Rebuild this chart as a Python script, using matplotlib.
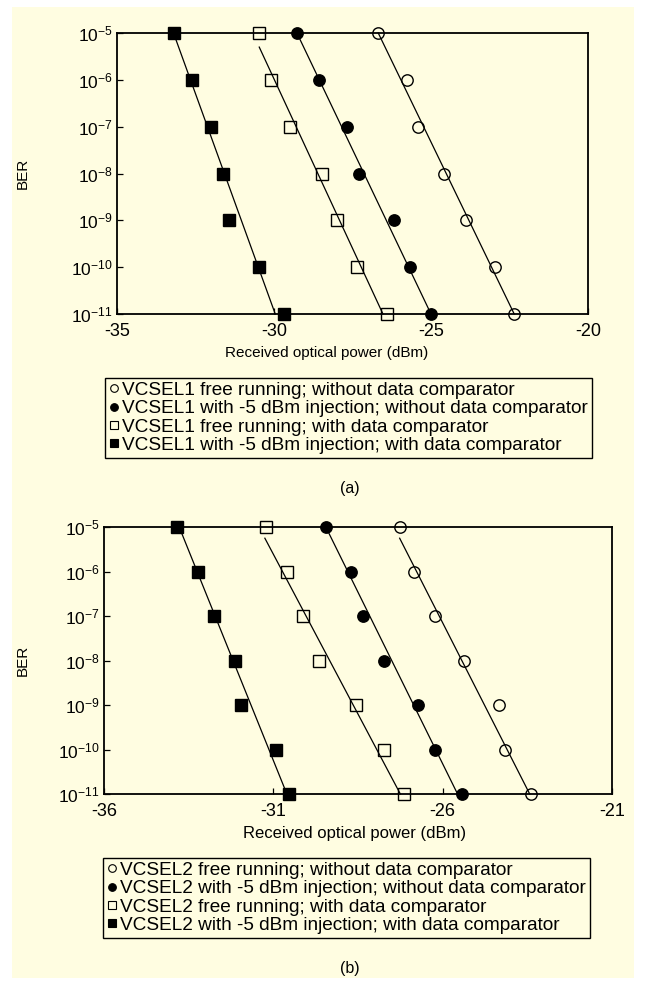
import matplotlib
matplotlib.use("Agg")
import matplotlib.pyplot as plt
from matplotlib.lines import Line2D
from matplotlib.patches import Rectangle

plt.rcParams['font.family'] = ['Liberation Sans', 'DejaVu Sans']
plt.rcParams['mathtext.fontset'] = 'custom'
plt.rcParams['mathtext.rm'] = 'Liberation Sans'
plt.rcParams['mathtext.it'] = 'Liberation Sans'
plt.rcParams['axes.unicode_minus'] = False

# ---------------- data ----------------
ber = [1e-5, 1e-6, 1e-7, 1e-8, 1e-9, 1e-10, 1e-11]
ytick_vals = [1e-5, 1e-6, 1e-7, 1e-8, 1e-9, 1e-10, 1e-11]
ytick_labels = [r'$\mathregular{10^{-5}}$', r'$\mathregular{10^{-6}}$', r'$\mathregular{10^{-7}}$',
                r'$\mathregular{10^{-8}}$', r'$\mathregular{10^{-9}}$', r'$\mathregular{10^{-10}}$',
                r'$\mathregular{10^{-11}}$']

# Panel (a) - VCSEL1
a_free_nocomp = [-26.68, -25.75, -25.40, -24.59, -23.87, -22.95, -22.35]
a_inj_nocomp = [-29.27, -28.57, -27.67, -27.28, -26.18, -25.68, -24.99]
a_free_comp = [-30.47, -30.10, -29.50, -28.47, -27.99, -27.37, -26.39]
a_inj_comp = [-33.20, -32.61, -32.01, -31.61, -31.42, -30.47, -29.69]
# fitted lines (start power, end power), (start BER, end BER)
a_fit_free_nocomp = ([-26.68, -22.35], [1e-5, 1e-11])
a_fit_inj_nocomp = ([-29.27, -25.00], [1e-5, 1e-11])
a_fit_free_comp = ([-30.47, -26.53], [5e-6, 1e-11])
a_fit_inj_comp = ([-33.20, -29.96], [1e-5, 1e-11])
a_xticks = [-35, -30, -25, -20]
a_xlim = (-35, -20)
a_labels = ['VCSEL1 free running; without data comparator',
            'VCSEL1 with -5 dBm injection; without data comparator',
            'VCSEL1 free running; with data comparator',
            'VCSEL1 with -5 dBm injection; with data comparator']

# Panel (b) - VCSEL2
b_free_nocomp = [-27.25, -26.85, -26.24, -25.38, -24.35, -24.17, -23.38]
b_inj_nocomp = [-29.45, -28.71, -28.35, -27.74, -26.73, -26.24, -25.43]
b_free_comp = [-31.22, -30.61, -30.12, -29.65, -28.55, -27.74, -27.15]
b_inj_comp = [-33.83, -33.22, -32.75, -32.12, -31.94, -30.93, -30.53]
b_fit_free_nocomp = ([-27.27, -23.43], [5.6e-6, 1e-11])
b_fit_inj_nocomp = ([-29.45, -25.56], [1e-5, 1e-11])
b_fit_free_comp = ([-31.25, -27.25], [5.6e-6, 1e-11])
b_fit_inj_comp = ([-33.78, -30.60], [1e-5, 1e-11])
b_xticks = [-36, -31, -26, -21]
b_xlim = (-36, -21)
b_labels = ['VCSEL2 free running; without data comparator',
            'VCSEL2 with -5 dBm injection; without data comparator',
            'VCSEL2 free running; with data comparator',
            'VCSEL2 with -5 dBm injection; with data comparator']

# ---------------- style ----------------
BG = '#FFFDE1'
W, H = 646, 985
fig = plt.figure(figsize=(W / 100, H / 100), dpi=100)
fig.patch.set_facecolor('white')
fig.add_artist(Rectangle((12 / W, 1 - 978 / H), (634 - 12) / W, (978 - 7) / H,
                         transform=fig.transFigure, facecolor=BG, edgecolor='none', zorder=0))

styles = [dict(marker='o', mfc='none', mec='black'),
          dict(marker='o', mfc='black', mec='black'),
          dict(marker='s', mfc='none', mec='black'),
          dict(marker='s', mfc='black', mec='black')]


def make_panel(rect_px, series, fits, xticks, xlim, labels, leg_px, tag, tag_y,
               xlabel_cx, xlabel_top, xlabel_size):
    l, t, r, b = rect_px
    ax = fig.add_axes([l / W, 1 - b / H, (r - l) / W, (b - t) / H])
    ax.set_facecolor(BG)
    ax.set_yscale('log')
    ax.set_xlim(*xlim)
    ax.set_ylim(1e-11, 1e-5)
    for (fx, fy) in fits:
        ax.plot(fx, fy, color='black', lw=0.9, zorder=2, clip_on=False)
    for vals, st in zip(series, styles):
        ax.plot(vals, ber, linestyle='none', markersize=8.8 if st['marker'] == 's' else 8.2,
                markeredgewidth=1.0, zorder=3, clip_on=False, **st)
    ax.set_yticks(ytick_vals)
    ax.set_yticklabels(ytick_labels)
    ax.yaxis.set_minor_locator(matplotlib.ticker.NullLocator())
    ax.set_xticks(xticks)
    ax.set_xticklabels([str(v) for v in xticks])
    ax.tick_params(axis='both', direction='in', length=4, width=0.9, top=False, right=False,
                   colors='black')
    ax.tick_params(axis='y', labelsize=12.5, pad=3)
    ax.tick_params(axis='x', labelsize=13, pad=6.5)
    for s in ax.spines.values():
        s.set_linewidth(1.3)
        s.set_color('black')
    ax.set_xlabel('Received optical power (dBm)', fontsize=xlabel_size)
    ax.xaxis.set_label_coords((xlabel_cx - l) / (r - l), -(xlabel_top - b) / (b - t))
    ax.set_ylabel('BER', fontsize=11)
    ax.yaxis.set_label_coords(-(l - 30) / (r - l), 0.5)

    handles = [Line2D([], [], linestyle='none', markersize=6 if st['marker'] == 's' else 5.5,
                      markeredgewidth=0.8, **st) for st in styles]
    lx, ly = leg_px
    leg = fig.legend(handles, labels, loc='upper left', bbox_to_anchor=(lx / W, 1 - ly / H),
                     bbox_transform=fig.transFigure, frameon=True, fancybox=False,
                     edgecolor='black', facecolor=BG, framealpha=1, fontsize=13.7,
                     handlelength=0.5, handletextpad=0.2, borderpad=0.2,
                     labelspacing=0.05, borderaxespad=0)
    leg.get_frame().set_linewidth(1.0)
    fig.text(350 / W, 1 - tag_y / H, tag, ha='center', va='center', fontsize=11.5)
    return ax


make_panel((117, 33, 588, 314),
           [a_free_nocomp, a_inj_nocomp, a_free_comp, a_inj_comp],
           [a_fit_free_nocomp, a_fit_inj_nocomp, a_fit_free_comp, a_fit_inj_comp],
           a_xticks, a_xlim, a_labels, (105, 378), '(a)', 489, 327, 346, 11)

make_panel((104, 527, 612, 794),
           [b_free_nocomp, b_inj_nocomp, b_free_comp, b_inj_comp],
           [b_fit_free_nocomp, b_fit_inj_nocomp, b_fit_free_comp, b_fit_inj_comp],
           b_xticks, b_xlim, b_labels, (103, 858), '(b)', 969, 355, 826, 12)

fig.savefig('out.png', dpi=100, facecolor='white')
